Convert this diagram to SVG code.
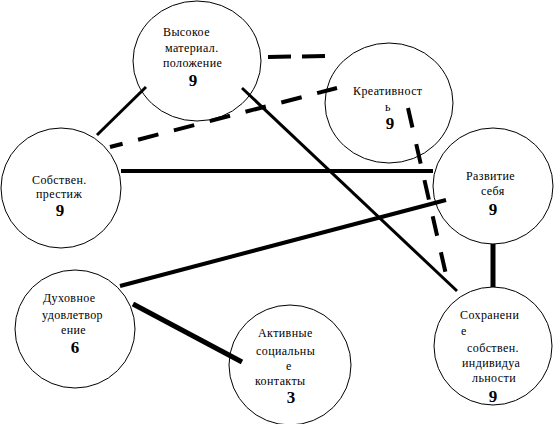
<svg xmlns="http://www.w3.org/2000/svg" width="554" height="424" viewBox="0 0 554 424">
<style>
.n{fill:none;stroke:#000;stroke-width:1}
.t{font-family:'Liberation Serif','DejaVu Serif',serif;font-size:12px;fill:#000;letter-spacing:0.4px}
.b{font-family:'Liberation Serif','DejaVu Serif',serif;font-size:17px;font-weight:bold;fill:#000;text-anchor:middle}
.c{stroke:#000;fill:none;stroke-linecap:butt}
.d{stroke:#000;fill:none;stroke-width:4}
</style>
<rect width="554" height="424" fill="#fff"/>
<g id="connectors">
<line class="c" x1="97" y1="135" x2="146" y2="87" stroke-width="3"/>
<line class="c" x1="242" y1="88" x2="457" y2="291" stroke-width="3"/>
<line class="d" x1="268" y1="57" x2="325" y2="56" stroke-dasharray="23 11"/>
<line class="d" x1="110" y1="147" x2="337" y2="88" stroke-dasharray="13 16 21 16 21 16 21 16 21 16 21 16 21 16"/>
<line class="d" x1="408" y1="108" x2="447" y2="279" stroke-dasharray="20 17"/>
<line class="c" x1="121" y1="171" x2="433" y2="171" stroke-width="4"/>
<line class="c" x1="120" y1="286" x2="446" y2="200" stroke-width="4"/>
<line class="c" x1="493" y1="244" x2="493" y2="287" stroke-width="5"/>
<line class="c" x1="133" y1="304" x2="242" y2="362" stroke-width="5"/>
</g>
<g id="node-vysokoe">
<ellipse class="n" cx="197" cy="61" rx="64" ry="60"/>
<text class="t" x="163" y="36">Высокое</text>
<text class="t" x="165" y="52">материал.</text>
<text class="t" x="163" y="67">положение</text>
<text class="b" x="193" y="86">9</text>
</g>
<g id="node-kreativnost">
<ellipse class="n" cx="389" cy="103" rx="64" ry="60"/>
<text class="t" x="353" y="95">Креативност</text>
<text class="t" x="385" y="111">ь</text>
<text class="b" x="390" y="129">9</text>
</g>
<g id="node-prestizh">
<ellipse class="n" cx="61" cy="188" rx="60" ry="60"/>
<text class="t" x="32" y="184">Собствен.</text>
<text class="t" x="36" y="198">престиж</text>
<text class="b" x="60" y="216">9</text>
</g>
<g id="node-razvitie">
<ellipse class="n" cx="493" cy="186" rx="60" ry="58"/>
<text class="t" x="466" y="180">Развитие</text>
<text class="t" x="481" y="195">себя</text>
<text class="b" x="493" y="215">9</text>
</g>
<g id="node-dukhovnoe">
<ellipse class="n" cx="75" cy="329" rx="60" ry="59"/>
<text class="t" x="43" y="302">Духовное</text>
<text class="t" x="42" y="319">удовлетвор</text>
<text class="t" x="61" y="334">ение</text>
<text class="b" x="75" y="353">6</text>
</g>
<g id="node-aktivnye">
<ellipse class="n" cx="290" cy="365" rx="61" ry="60"/>
<text class="t" x="258" y="337">Активные</text>
<text class="t" x="256" y="355">социальны</text>
<text class="t" x="286" y="370">е</text>
<text class="t" x="255" y="385">контакты</text>
<text class="b" x="291" y="403">3</text>
</g>
<g id="node-sokhranenie">
<ellipse class="n" cx="493" cy="346" rx="59" ry="59"/>
<text class="t" x="460" y="319">Сохранени</text>
<text class="t" x="461" y="335">е</text>
<text class="t" x="467" y="352">собствен.</text>
<text class="t" x="462" y="367">индивидуа</text>
<text class="t" x="472" y="382">льности</text>
<text class="b" x="493" y="402">9</text>
</g>
</svg>
